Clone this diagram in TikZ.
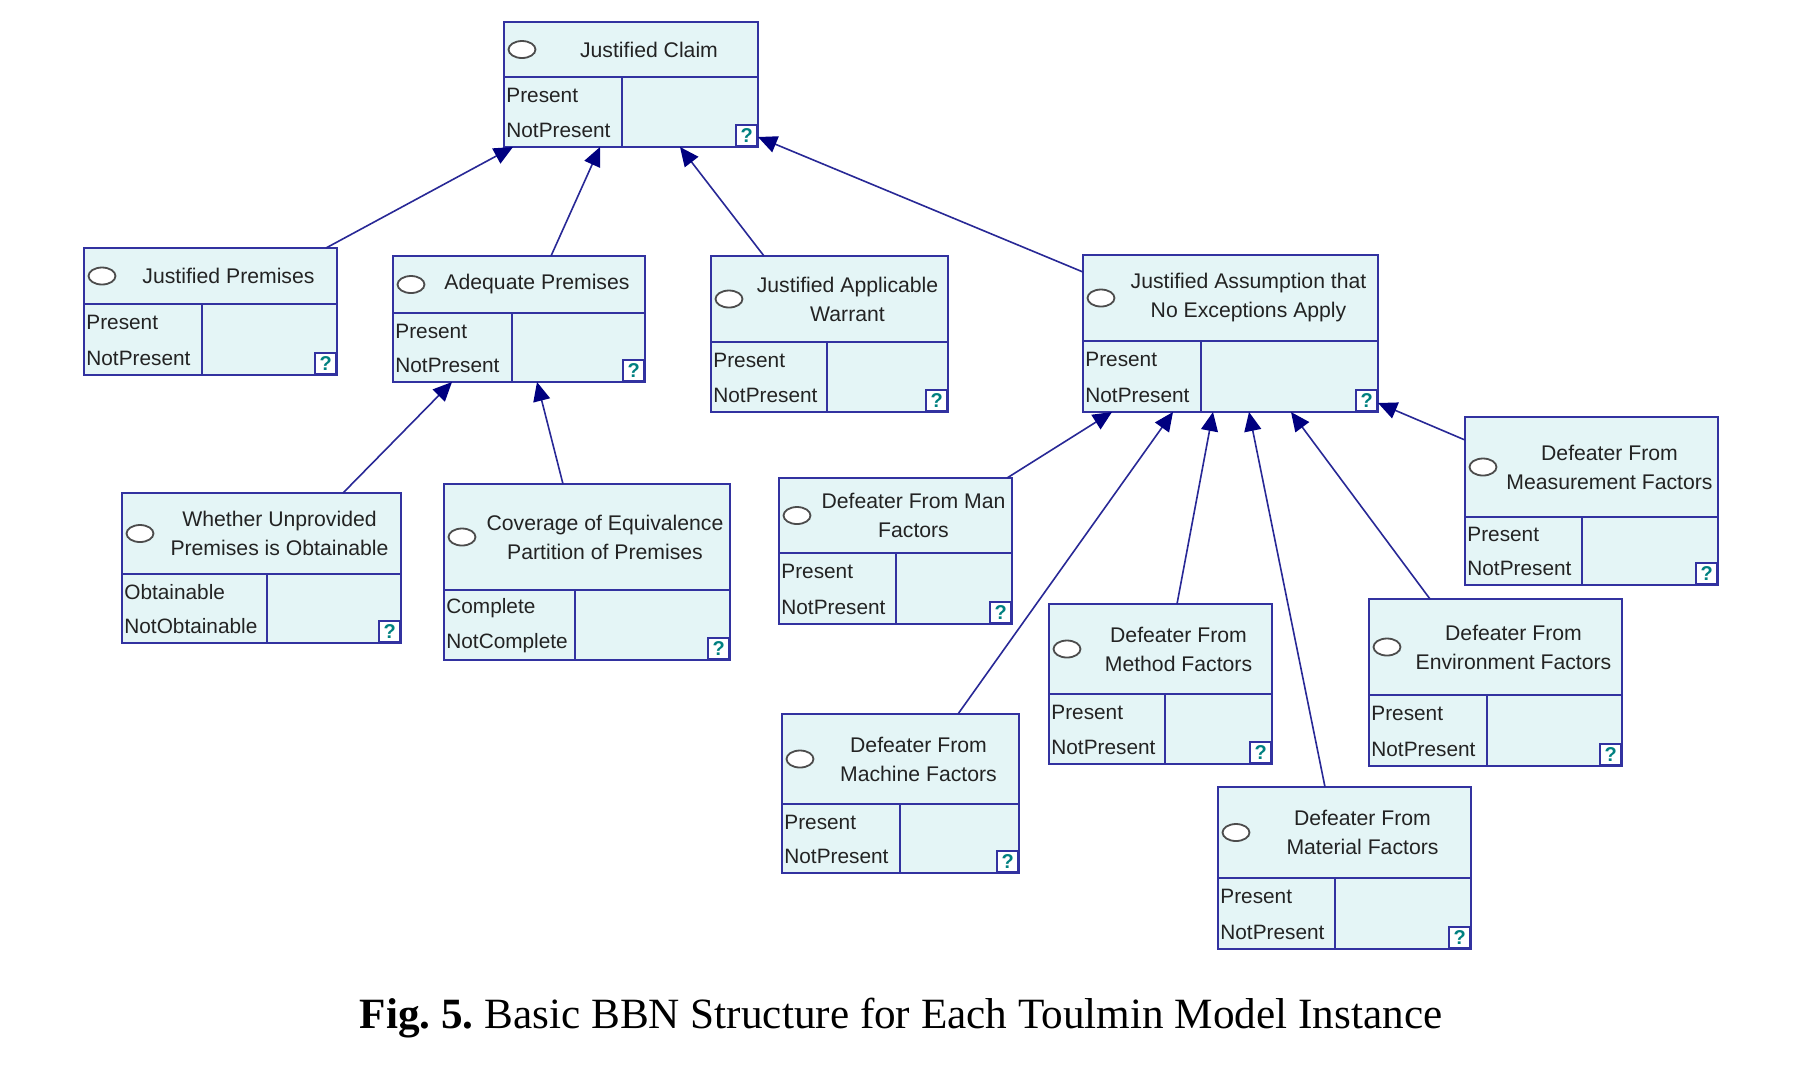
\documentclass[tikz,border=0pt]{standalone}
\usepackage{fontspec}
\setmainfont{Liberation Sans}
\newfontfamily\capfont{Liberation Serif}
\usetikzlibrary{arrows.meta,shapes.geometric,fit,calc}
\definecolor{bbnfill}{RGB}{228,245,246}
\definecolor{bbnborder}{RGB}{50,50,160}
\definecolor{arrline}{RGB}{40,40,150}
\definecolor{arrhead}{RGB}{0,0,128}
\definecolor{qteal}{RGB}{0,128,128}
\definecolor{txt}{RGB}{35,35,35}
\def\rowA{Present}
\def\rowB{NotPresent}
\newcommand\bbnbox[8]{%
  \pgfmathsetmacro\bxm{(#2+36+#4)/2}%
  \pgfmathsetmacro\bym{(#3+#6)/2}%
  \pgfmathsetmacro\byA{#6+0.26*(#5-#6)}%
  \pgfmathsetmacro\byB{#6+0.76*(#5-#6)}%
  \pgfmathsetmacro\bxe{#2+18}%
  \pgfmathsetmacro\bxl{#2+2}%
  \node[bbn, fit={(#2,#3) (#4,#5)}] (#1) {};
  \draw[bbnline] (#2,#6) -- (#4,#6) (#7,#6) -- (#7,#5);
  \node[bbntitle] (#1-t) at (\bxm,\bym) {#8};
  \node[bbnoval] (#1-o) at (\bxe,\bym) {};
  \node[bbnrow] (#1-a) at (\bxl,\byA) {\rowA};
  \node[bbnrow] (#1-b) at (\bxl,\byB) {\rowB};
  \node[bbnq] (#1-q) at (#4,#5) {?};
}
\tikzset{
  bbn/.style={rectangle, draw=bbnborder, fill=bbnfill, line width=1pt, inner sep=0pt, outer sep=0pt},
  bbnline/.style={draw=bbnborder, line width=1pt},
  bbntitle/.style={align=center, text=txt, font=\fontsize{10.6}{14.5}\selectfont, inner sep=0pt},
  bbnrow/.style={anchor=west, text=txt, font=\fontsize{10.4}{12}\selectfont, inner sep=0pt},
  bbnoval/.style={ellipse, draw=black!70, fill=white, line width=0.9pt, minimum width=13.5pt, minimum height=8.5pt, inner sep=0pt},
  bbnq/.style={anchor=south east, rectangle, draw=bbnborder, fill=white, line width=0.8pt, minimum size=10.5pt, inner sep=0pt, text=qteal, font=\bfseries\fontsize{10}{10}\selectfont},
  arr/.style={draw=arrline, line width=0.8pt, -{Triangle[length=9.5pt,width=8.5pt,color=arrhead,fill=arrhead]}},
}
\begin{document}
\begin{tikzpicture}[x=0.5pt,y=-0.5pt]
\useasboundingbox[fill=white] (0,0) rectangle (1795,1084);
% nodes: name, x1, y1, x2, y2, yh, xc, title
\bbnbox{claim}{504}{22}{758}{147}{77}{622}{Justified Claim}
\bbnbox{jp}{84}{248}{337}{375}{304}{202}{Justified Premises}
\bbnbox{ap}{393}{256}{645}{382}{313}{512}{Adequate Premises}
\bbnbox{jw}{711}{256}{948}{412}{342}{827}{Justified Applicable\\Warrant}
\bbnbox{ja}{1083}{255}{1378}{412}{341}{1201}{Justified Assumption that\\No Exceptions Apply}
\def\rowA{Obtainable}\def\rowB{NotObtainable}
\bbnbox{wu}{122}{493}{401}{643}{574}{267}{Whether Unprovided\\Premises is Obtainable}
\def\rowA{Complete}\def\rowB{NotComplete}
\bbnbox{cov}{444}{484}{730}{660}{590}{575}{Coverage of Equivalence\\Partition of Premises}
\def\rowA{Present}\def\rowB{NotPresent}
\bbnbox{man}{779}{478}{1012}{624}{553}{896}{Defeater From Man\\Factors}
\bbnbox{meas}{1465}{417}{1718}{585}{517}{1582}{Defeater From\\Measurement Factors}
\bbnbox{meth}{1049}{604}{1272}{764}{694}{1165}{Defeater From\\Method Factors}
\bbnbox{env}{1369}{599}{1622}{766}{695}{1487}{Defeater From\\Environment Factors}
\bbnbox{mach}{782}{714}{1019}{873}{804}{900}{Defeater From\\Machine Factors}
\bbnbox{mat}{1218}{787}{1471}{949}{878}{1335}{Defeater From\\Material Factors}
% connectors
\draw[arr] ($(jp.north west)+(242,0)$) -- ($(claim.south west)+(9,0)$);
\draw[arr] ($(ap.north west)+(158,0)$) -- ($(claim.south west)+(96,0)$);
\draw[arr] ($(jw.north west)+(53,0)$) -- ($(claim.south west)+(176,0)$);
\draw[arr] ($(ja.north west)+(0,17)$) -- ($(claim.south east)+(0,-10)$);
\draw[arr] ($(wu.north west)+(221,0)$) -- ($(ap.south west)+(59,0)$);
\draw[arr] ($(cov.north west)+(119,0)$) -- ($(ap.south west)+(144,0)$);
\draw[arr] ($(man.north west)+(228,0)$) -- ($(ja.south west)+(29,0)$);
\draw[arr] ($(mach.north west)+(176,0)$) -- ($(ja.south west)+(90,0)$);
\draw[arr] ($(meth.north west)+(128,0)$) -- ($(ja.south west)+(130,0)$);
\draw[arr] ($(mat.north west)+(107,0)$) -- ($(ja.south west)+(166,0)$);
\draw[arr] ($(env.north west)+(61,0)$) -- ($(ja.south west)+(208,0)$);
\draw[arr] ($(meas.north west)+(0,23)$) -- ($(ja.south east)+(0,-9)$);
% caption
\node[inner sep=0pt, font=\capfont\fontsize{21.6}{24}\selectfont] (cap) at (901,1018) {\frenchspacing\textbf{Fig. 5.} Basic BBN Structure for Each Toulmin Model Instance};
\end{tikzpicture}
\end{document}
